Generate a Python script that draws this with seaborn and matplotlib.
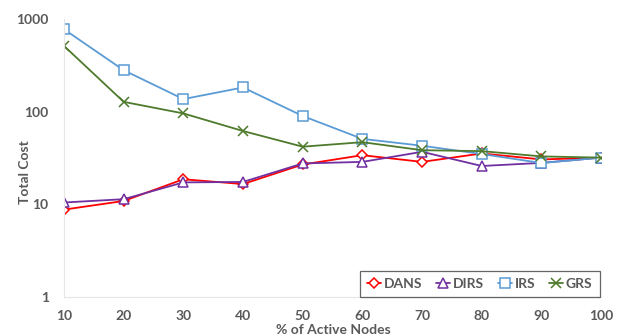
import numpy as np
import pandas as pd
import matplotlib
matplotlib.use("Agg")
import matplotlib.pyplot as plt
import seaborn as sns

active_nodes = [10, 20, 30, 40, 50, 60, 70, 80, 90, 100]
dans = [8.8, 10.9, 18.7, 16.6, 27.0, 34.0, 28.8, 35.5, 30.6, 32.0]
dirs = [10.5, 11.4, 17.3, 17.5, 27.7, 28.8, 37.0, 26.0, 28.1, 32.0]
irs = [777, 281, 137, 183, 90, 51, 43, 35, 28, 32.0]
grs = [514, 128, 96, 62, 42, 47, 38.5, 37.6, 33, 32.0]
series_names = ["DANS", "DIRS", "IRS", "GRS"]
y_ticks = [1, 10, 100, 1000]

sns.set_theme(style="white")
plt.rcParams["font.family"] = ["Lato", "DejaVu Sans"]

series_values = {"DANS": dans, "DIRS": dirs, "IRS": irs, "GRS": grs}
colors = {"DANS": "#FF0000", "DIRS": "#7030A0", "IRS": "#5B9BD5", "GRS": "#4E7A2C"}
markers = {"DANS": "D", "DIRS": "^", "IRS": "s", "GRS": "x"}
msizes = {"DANS": 5.5, "DIRS": 7, "IRS": 7.5, "GRS": 7}

fig = plt.figure(figsize=(6.21, 3.35), dpi=100)
ax = fig.add_axes([0.103, 0.113, 0.865, 0.830])

for name in series_names:
    d = pd.DataFrame({"x": active_nodes, "y": series_values[name]})
    sns.lineplot(data=d, x="x", y="y", color=colors[name], marker=markers[name],
                 linewidth=1.3, markersize=msizes[name],
                 markerfacecolor="white", markeredgecolor=colors[name],
                 markeredgewidth=1.1, label=name, legend=False, ax=ax)

ax.set_yscale("log")
ax.set_ylim(1, 1000)
ax.set_xlim(10, 100)
ax.set_xticks(active_nodes)
ax.set_xticklabels([str(v) for v in active_nodes])
ax.set_yticks(y_ticks)
ax.set_yticklabels([str(v) for v in y_ticks])
ax.yaxis.set_minor_locator(matplotlib.ticker.NullLocator())

tick_color = "#595959"
fs = 10
ax.tick_params(axis="both", which="both", length=0, labelsize=fs,
               labelcolor=tick_color)
ax.tick_params(axis="x", pad=9.5)
ax.tick_params(axis="y", pad=11)
for lab in ax.get_xticklabels() + ax.get_yticklabels():
    lab.set_fontweight("bold")

for side in ["top", "right"]:
    ax.spines[side].set_visible(False)
ax.spines["left"].set_color("#E6E6E6")
ax.spines["bottom"].set_color("#E6E6E6")
ax.spines["left"].set_linewidth(0.8)
ax.spines["bottom"].set_linewidth(0.8)

ax.set_xlabel("% of Active Nodes", fontsize=fs, fontweight="bold",
              color=tick_color)
ax.set_ylabel("Total Cost", fontsize=fs, fontweight="bold",
              color=tick_color)
ax.xaxis.set_label_coords(0.501, -0.098)
ax.yaxis.set_label_coords(-0.062, 0.45)

handles = ax.lines[:4]
leg = ax.legend(handles, series_names, loc="lower right",
                bbox_to_anchor=(0.997, 0.0), borderaxespad=0.0, ncol=4,
                frameon=True, fancybox=False, handlelength=1.0,
                handletextpad=0.2, columnspacing=1.0, borderpad=0.5,
                prop={"weight": "bold", "size": fs})
leg.get_frame().set_edgecolor("#404040")
leg.get_frame().set_linewidth(0.9)
for t in leg.get_texts():
    t.set_color(tick_color)

fig.savefig("out.png", dpi=100)
